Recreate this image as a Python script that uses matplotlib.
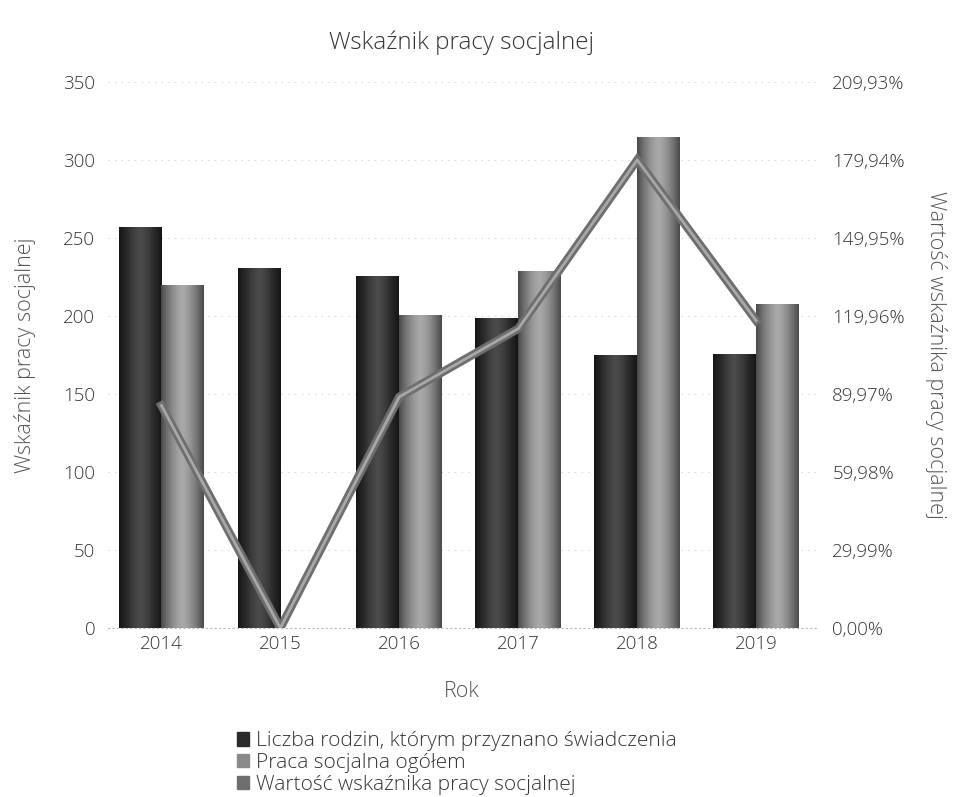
import numpy as np
import matplotlib.pyplot as plt
from matplotlib.patches import Patch
from matplotlib.colors import LinearSegmentedColormap
from matplotlib.ticker import FixedLocator, FuncFormatter

years = ["2014", "2015", "2016", "2017", "2018", "2019"]
families = [257, 231, 226, 199, 175, 176]
social_work = [220, 0, 201, 229, 315, 208]
indicator_pct = [85.6, 0.0, 88.9, 115.1, 180.0, 118.2]

right_ticks = [0.00, 29.99, 59.98, 89.97, 119.96, 149.95, 179.94, 209.93]

TEXT = "#333333"
plt.rcParams["font.family"] = ["Open Sans", "DejaVu Sans"]
plt.rcParams["font.weight"] = "light"
plt.rcParams["axes.titleweight"] = "light"
plt.rcParams["axes.labelweight"] = "light"

fig = plt.figure(figsize=(9.63, 7.97), dpi=100)
ax = fig.add_axes([0.112, 0.212, 0.735, 0.685])
ax2 = ax.twinx()

x = np.arange(len(years))
w = 0.36

dark_cmap = LinearSegmentedColormap.from_list("dk", ["#4a4a4a", "#2a2a2a", "#151515"])
light_cmap = LinearSegmentedColormap.from_list("lt", ["#a8a8a8", "#7a7a7a", "#4a4a4a"])


def shade_bars(bars, cmap):
    # cylinder-ish shading like the scanned original
    grad = np.abs(np.linspace(-1, 1, 64))[None, :] ** 1.5
    for b in bars:
        if b.get_height() <= 0:
            continue
        x0, y0 = b.get_x(), b.get_y()
        im = ax.imshow(grad, extent=[x0, x0 + b.get_width(), y0, y0 + b.get_height()],
                       aspect="auto", cmap=cmap, vmin=0, vmax=1,
                       zorder=2, interpolation="bilinear")
        im.set_clip_path(b)


bars1 = ax.bar(x - w / 2, families, w, color="#333333", zorder=2)
bars2 = ax.bar(x + w / 2, social_work, w, color="#8a8a8a", zorder=2)
shade_bars(bars1, dark_cmap)
shade_bars(bars2, light_cmap)

ax2.plot(x, indicator_pct, color="#6e6e6e", lw=6, zorder=3, solid_joinstyle="miter")
ax2.plot(x, indicator_pct, color="#a8a8a8", lw=2, zorder=4)

ax.set_xlim(-0.45, 5.5)
ax.set_ylim(0, 350)
ax.set_yticks(range(0, 351, 50))
ax.set_xticks(x)
ax.set_xticklabels(years)
ax.grid(axis="y", color="#cccccc", ls=(0, (1, 5)), lw=0.8, zorder=0)
ax.set_axisbelow(True)

ax2.set_ylim(0, 209.93)
ax2.yaxis.set_major_locator(FixedLocator(right_ticks))
ax2.yaxis.set_major_formatter(FuncFormatter(lambda v, p: f"{v:.2f}%".replace(".", ",")))

for a in (ax, ax2):
    for s in a.spines.values():
        s.set_visible(False)
    a.tick_params(length=0, labelsize=13.5, colors=TEXT)
ax.tick_params(axis="y", pad=9)
ax.tick_params(axis="x", pad=5)
ax2.tick_params(axis="y", pad=12)
ax.spines["bottom"].set_visible(True)
ax.spines["bottom"].set_color("#bbbbbb")
ax.spines["bottom"].set_linestyle((0, (1, 3)))

ax.set_title("Wskaźnik pracy socjalnej", fontsize=17.5, color=TEXT, pad=24)
ax.set_xlabel("Rok", fontsize=15.5, color="#555555", labelpad=20)
ax.set_ylabel("Wskaźnik pracy socjalnej", fontsize=15.5, color="#555555", labelpad=20)
ax2.set_ylabel("Wartość wskaźnika pracy socjalnej", fontsize=15.5, color="#555555",
               rotation=270, labelpad=30)

handles = [
    Patch(color="#2a2a2a"),
    Patch(color="#8a8a8a"),
    Patch(color="#6e6e6e"),
]
labels = ["Liczba rodzin, którym przyznano świadczenia",
          "Praca socjalna ogółem",
          "Wartość wskaźnika pracy socjalnej"]
fig.legend(handles, labels, loc="lower left",
           bbox_to_anchor=(0.232, -0.014), frameon=False, fontsize=15,
           handlelength=0.6, handleheight=0.6, handletextpad=0.3,
           labelspacing=0.08, borderpad=0.15, labelcolor=TEXT)

fig.savefig("out.png", dpi=100)
